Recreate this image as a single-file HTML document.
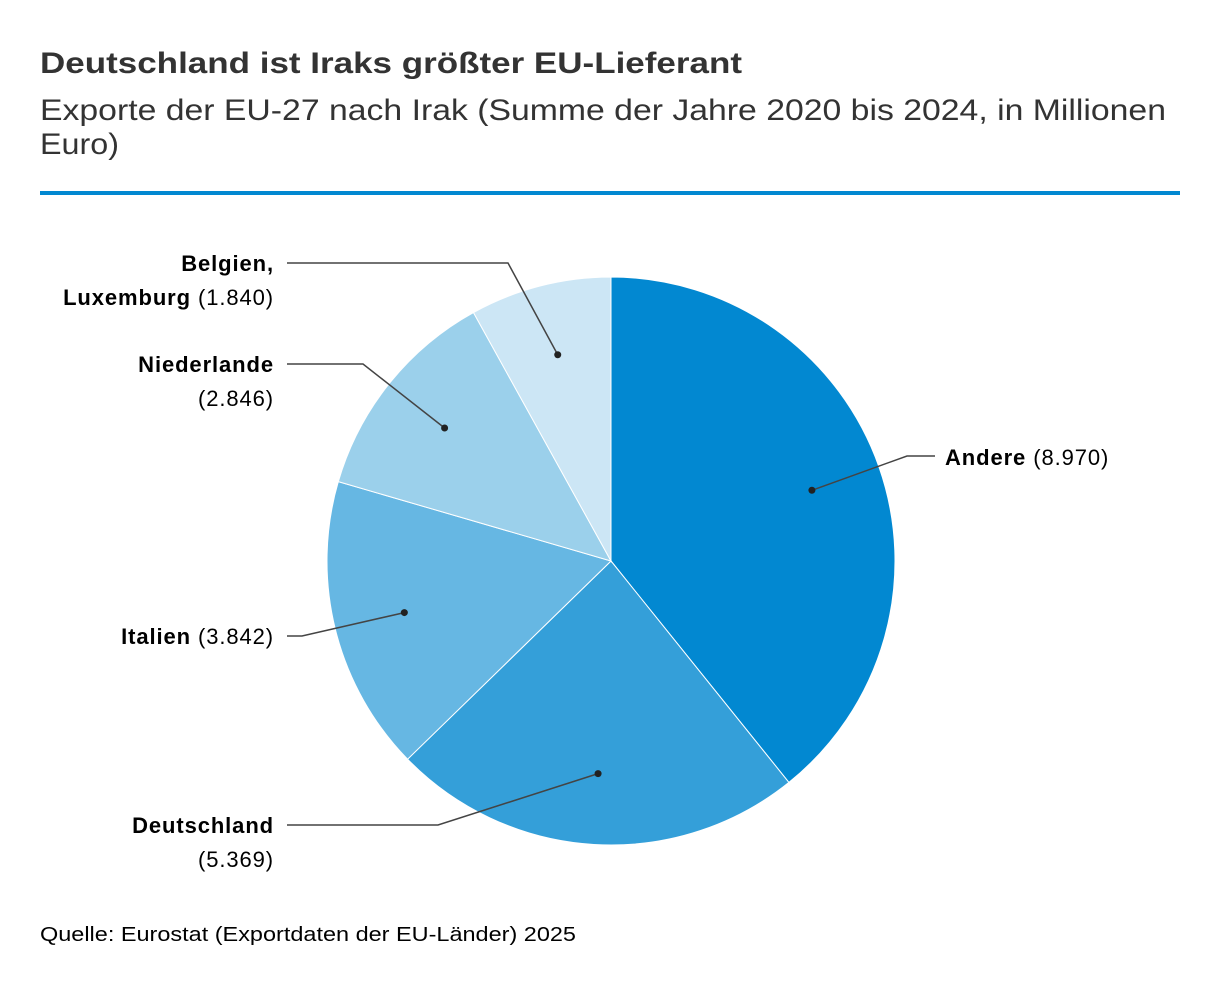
<!DOCTYPE html>
<html><head><meta charset="utf-8"><style>
html,body{margin:0;padding:0;background:#fff;}
svg{display:block;font-family:"Liberation Sans",sans-serif;}
</style></head><body>
<svg width="1220" height="988" viewBox="0 0 1220 988">
<text x="40" y="73" font-size="30" font-weight="bold" fill="#333" textLength="702" lengthAdjust="spacingAndGlyphs">Deutschland ist Iraks größter EU-Lieferant</text>
<text x="40" y="120" font-size="30" fill="#333" textLength="1126" lengthAdjust="spacingAndGlyphs">Exporte der EU-27 nach Irak (Summe der Jahre 2020 bis 2024, in Millionen</text>
<text x="40" y="154" font-size="30" fill="#333" textLength="79" lengthAdjust="spacingAndGlyphs">Euro)</text>
<rect x="40" y="191" width="1140" height="4" fill="#0288d1"/>
<g id="pie"></g>
<g id="labels"></g>
<text x="40" y="941" font-size="20" fill="#000" textLength="536" lengthAdjust="spacingAndGlyphs">Quelle: Eurostat (Exportdaten der EU-Länder) 2025</text>
</svg>
<script>
const categories = ["Andere","Deutschland","Italien","Niederlande","Belgien, Luxemburg"];
const values = [8970,5369,3842,2846,1840];
const valueLabels = ["8.970","5.369","3.842","2.846","1.840"];
const colors = ["#0288d1","#349fd9","#66b7e3","#9bd0eb","#cce6f5"];
const NS="http://www.w3.org/2000/svg";
const cx=611, cy=561, R=284;
const total=values.reduce((a,b)=>a+b,0);
const pie=document.getElementById('pie'), lab=document.getElementById('labels');
function pt(a,r){return [cx+r*Math.sin(a), cy-r*Math.cos(a)];}
const layout=[
 {elbow:[907,456],end:[935,456],anchor:"start",tx:945,lines:[[[categories[0],1],[" ("+valueLabels[0]+")",0]]],ty:[465]},
 {elbow:[438,825],end:[287,825],anchor:"end",tx:274,lines:[[[categories[1],1]],[["("+valueLabels[1]+")",0]]],ty:[833,867]},
 {elbow:[302,636],end:[287,636],anchor:"end",tx:274,lines:[[[categories[2],1],[" ("+valueLabels[2]+")",0]]],ty:[644]},
 {elbow:[363,364],end:[287,364],anchor:"end",tx:274,lines:[[[categories[3],1]],[["("+valueLabels[3]+")",0]]],ty:[372,406]},
 {elbow:[508,263],end:[287,263],anchor:"end",tx:274,lines:[[["Belgien,",1]],[["Luxemburg",1],[" ("+valueLabels[4]+")",0]]],ty:[271,305]}
];
let a0=0;
values.forEach((v,i)=>{
  const a1=a0+v/total*2*Math.PI;
  const p0=pt(a0,R), p1=pt(a1,R);
  const large=(a1-a0)>Math.PI?1:0;
  const p=document.createElementNS(NS,'path');
  p.setAttribute('d',`M${cx},${cy}L${p0[0]},${p0[1]}A${R},${R} 0 ${large} 1 ${p1[0]},${p1[1]}Z`);
  p.setAttribute('fill',colors[i]);p.setAttribute('stroke','#fff');p.setAttribute('stroke-width','1');
  
  
  pie.appendChild(p);
  const d=pt((a0+a1)/2,R*0.75), L=layout[i];
  const pl=document.createElementNS(NS,'polyline');
  pl.setAttribute('points',`${d[0]},${d[1]} ${L.elbow[0]},${L.elbow[1]} ${L.end[0]},${L.end[1]}`);
  pl.setAttribute('fill','none');pl.setAttribute('stroke','#444');pl.setAttribute('stroke-width','1.5');
  
  
  lab.appendChild(pl);
  const c=document.createElementNS(NS,'circle');
  c.setAttribute('cx',d[0]);c.setAttribute('cy',d[1]);c.setAttribute('r','3.5');c.setAttribute('fill','#222');
  
  
  lab.appendChild(c);
  L.lines.forEach((ln,j)=>{
    const t=document.createElementNS(NS,'text');
    t.setAttribute('x',L.tx);t.setAttribute('y',L.ty[j]);t.setAttribute('text-anchor',L.anchor);
    t.setAttribute('font-size','22');t.setAttribute('letter-spacing','0.9');t.setAttribute('fill','#000');
    
    
    ln.forEach(([s,b])=>{const ts=document.createElementNS(NS,'tspan');ts.textContent=s;if(b)ts.setAttribute('font-weight','bold');t.appendChild(ts);});
    lab.appendChild(t);
  });
  a0=a1;
});
</script>
</body></html>
